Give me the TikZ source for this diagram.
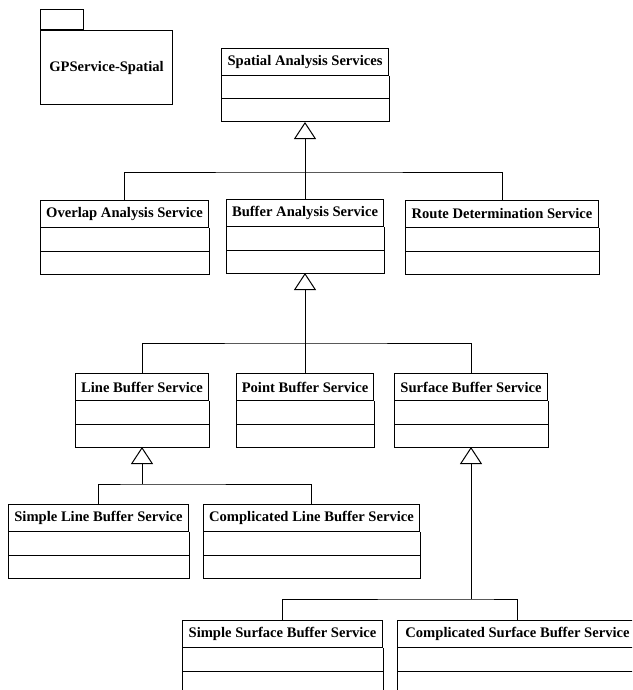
\documentclass[tikz,border=0pt]{standalone}
\usepackage{fontspec}
\setmainfont{Liberation Serif}
\usepackage{tikz}
\usetikzlibrary{calc, arrows.meta}

\tikzset{
	cls/.style={draw, line width=1pt, inner sep=0pt, minimum height=27pt, anchor=north west, font=\fontsize{14.6}{16}\selectfont\bfseries},
	gen/.style={line width=1pt, -{Triangle[open, width=22pt, length=17pt]}},
	lnk/.style={line width=1pt},
}
% クラスの箱: 名前, 左, 上, 幅, 名称
\newcommand{\svcbox}[5]{%
	\node[cls, minimum width=#4pt] (#1) at (#2,#3) {#5};
	\draw[lnk] (#1.south west) -- ++(0,46) -| (#1.south east);
	\draw[lnk] ($(#1.south west)+(0,23)$) -- ($(#1.south east)+(0,23)$);
	\coordinate (#1-b) at ($(#1.south)+(0,46)$);
}

\begin{document}
\begin{tikzpicture}[x=1pt, y=-1pt]
		\clip (0,0) rectangle (632,690); %枠
		\node[cls, minimum width=132pt, minimum height=74pt] (pkg) at (40,30) {GPService-Spatial}; %パッケージ
		\draw[lnk] (pkg.north west) rectangle ++(43,-20);
		\svcbox{spatial}{221}{48}{167}{Spatial Analysis Services}
		\svcbox{overlap}{40}{200}{168}{Overlap Analysis Service}
		\svcbox{buffer}{226}{199}{157}{Buffer Analysis Service}
		\svcbox{route}{405}{200}{193}{Route Determination Service}
		\svcbox{linebuf}{75}{373}{133}{Line Buffer Service}
		\svcbox{pointbuf}{236}{373}{137}{Point Buffer Service}
		\svcbox{surfbuf}{394}{373}{153}{Surface Buffer Service}
		\svcbox{simpleline}{8}{504}{180}{Simple Line Buffer Service}
		\svcbox{compline}{203}{504}{216}{Complicated Line Buffer Service}
		\svcbox{simplesurf}{182}{620}{200}{Simple Surface Buffer Service}
		\svcbox{compsurf}{397}{620}{240}{Complicated Surface Buffer Service}
		\coordinate (j1) at ($(spatial-b)+(0,50)$); %分岐点
		\coordinate (j2) at ($(buffer-b)+(0,70)$);
		\coordinate (j3) at ($(linebuf-b)+(0,37)$);
		\coordinate (j4) at ($(surfbuf-b)+(0,152)$);
		\draw[gen] (j1)--(spatial-b);
		\draw[lnk] (overlap.north) |- (j1) -| (route.north);
		\draw[lnk] (buffer.north)--(j1);
		\draw[gen] (j2)--(buffer-b);
		\draw[lnk] (linebuf.north) |- (j2) -| (surfbuf.north);
		\draw[lnk] (pointbuf.north)--(j2);
		\draw[gen] (j3)--(linebuf-b);
		\draw[lnk] (simpleline.north) |- (j3) -| (compline.north);
		\draw[gen] (j4)--(surfbuf-b);
		\draw[lnk] (simplesurf.north) |- (j4) -| (compsurf.north);
	\end{tikzpicture}
\end{document}
